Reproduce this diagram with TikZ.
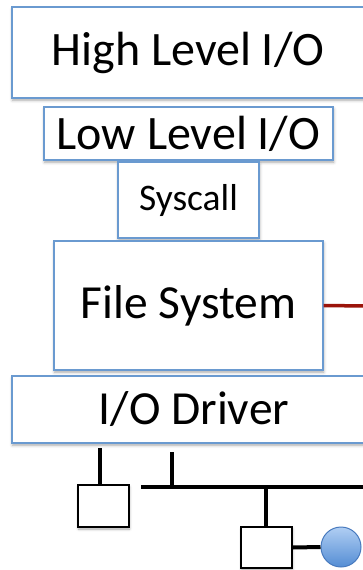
\documentclass[tikz,border=0pt]{standalone}
\usepackage{fontspec}
\setmainfont{Carlito}
\usetikzlibrary{shadows.blur,calc}
\definecolor{boxline}{RGB}{106,154,208}
\definecolor{linkred}{RGB}{155,20,10}
\definecolor{discedge}{RGB}{72,122,190}
\definecolor{disctop}{RGB}{176,206,243}
\definecolor{discbot}{RGB}{84,141,212}
\tikzset{
  layer/.style={draw=boxline, line width=1.4pt, fill=white, inner sep=0pt,
    blur shadow={shadow xshift=0.6pt, shadow yshift=-2.2pt, shadow blur radius=3pt, shadow opacity=35}},
  dev/.style={draw=black, line width=1.3pt, fill=white, inner sep=0pt,
    blur shadow={shadow xshift=0.5pt, shadow yshift=-2pt, shadow blur radius=2.5pt, shadow opacity=35}},
  wire/.style={line width=4pt, black},
  disc/.style={circle, draw=discedge, line width=1pt, top color=disctop, bottom color=discbot,
    inner sep=0pt, minimum size=40pt},
}
\begin{document}
\begin{tikzpicture}[x=1pt,y=-1pt]
\useasboundingbox (0,0) rectangle (362,570);
% software layers
\node[layer, minimum width=352pt, minimum height=91pt, font=\fontsize{48}{50}\selectfont] (high) at (188,52.5) {High Level I/O};
\node[layer, minimum width=289pt, minimum height=53pt, font=\fontsize{48}{50}\selectfont] (low) at (188.5,133.5) {Low Level I/O};
\node[layer, minimum width=141pt, minimum height=76pt, font=\fontsize{37.5}{40}\selectfont] (sys) at (188.5,200) {Syscall};
\node[layer, minimum width=269pt, minimum height=129pt, font=\fontsize{47.5}{50}\selectfont] (fs) at (188.5,305.5) {File System};
\node[layer, minimum width=364pt, minimum height=67pt, font=\fontsize{47.5}{50}\selectfont] (drv) at (194,409.5) {I/O Driver};
% devices
\node[dev, minimum width=51pt, minimum height=42pt] (sqa) at (103.5,506) {};
\node[dev, minimum width=51pt, minimum height=41pt] (sqb) at (266.5,547.5) {};
\node[disc] (dsk) at (341,547) {};
% bus wiring
\coordinate (busw) at (141,487);
\coordinate (buse) at (366,487);
\coordinate (dropa) at (100,448);
\coordinate (dropb) at (172,452);
\coordinate (fsout) at (366,306);
\draw[wire] (dropa) -- (dropa |- sqa.north);
\draw[wire] (dropb) -- (dropb |- busw);
\draw[wire] (busw) -- (buse);
\draw[wire] (266,487) -- (266,0 |- sqb.north);
\draw[wire] (sqb.east) -- (dsk.west);
\draw[linkred, line width=3.5pt] (fs.east) -- (fsout);
\end{tikzpicture}
\end{document}
